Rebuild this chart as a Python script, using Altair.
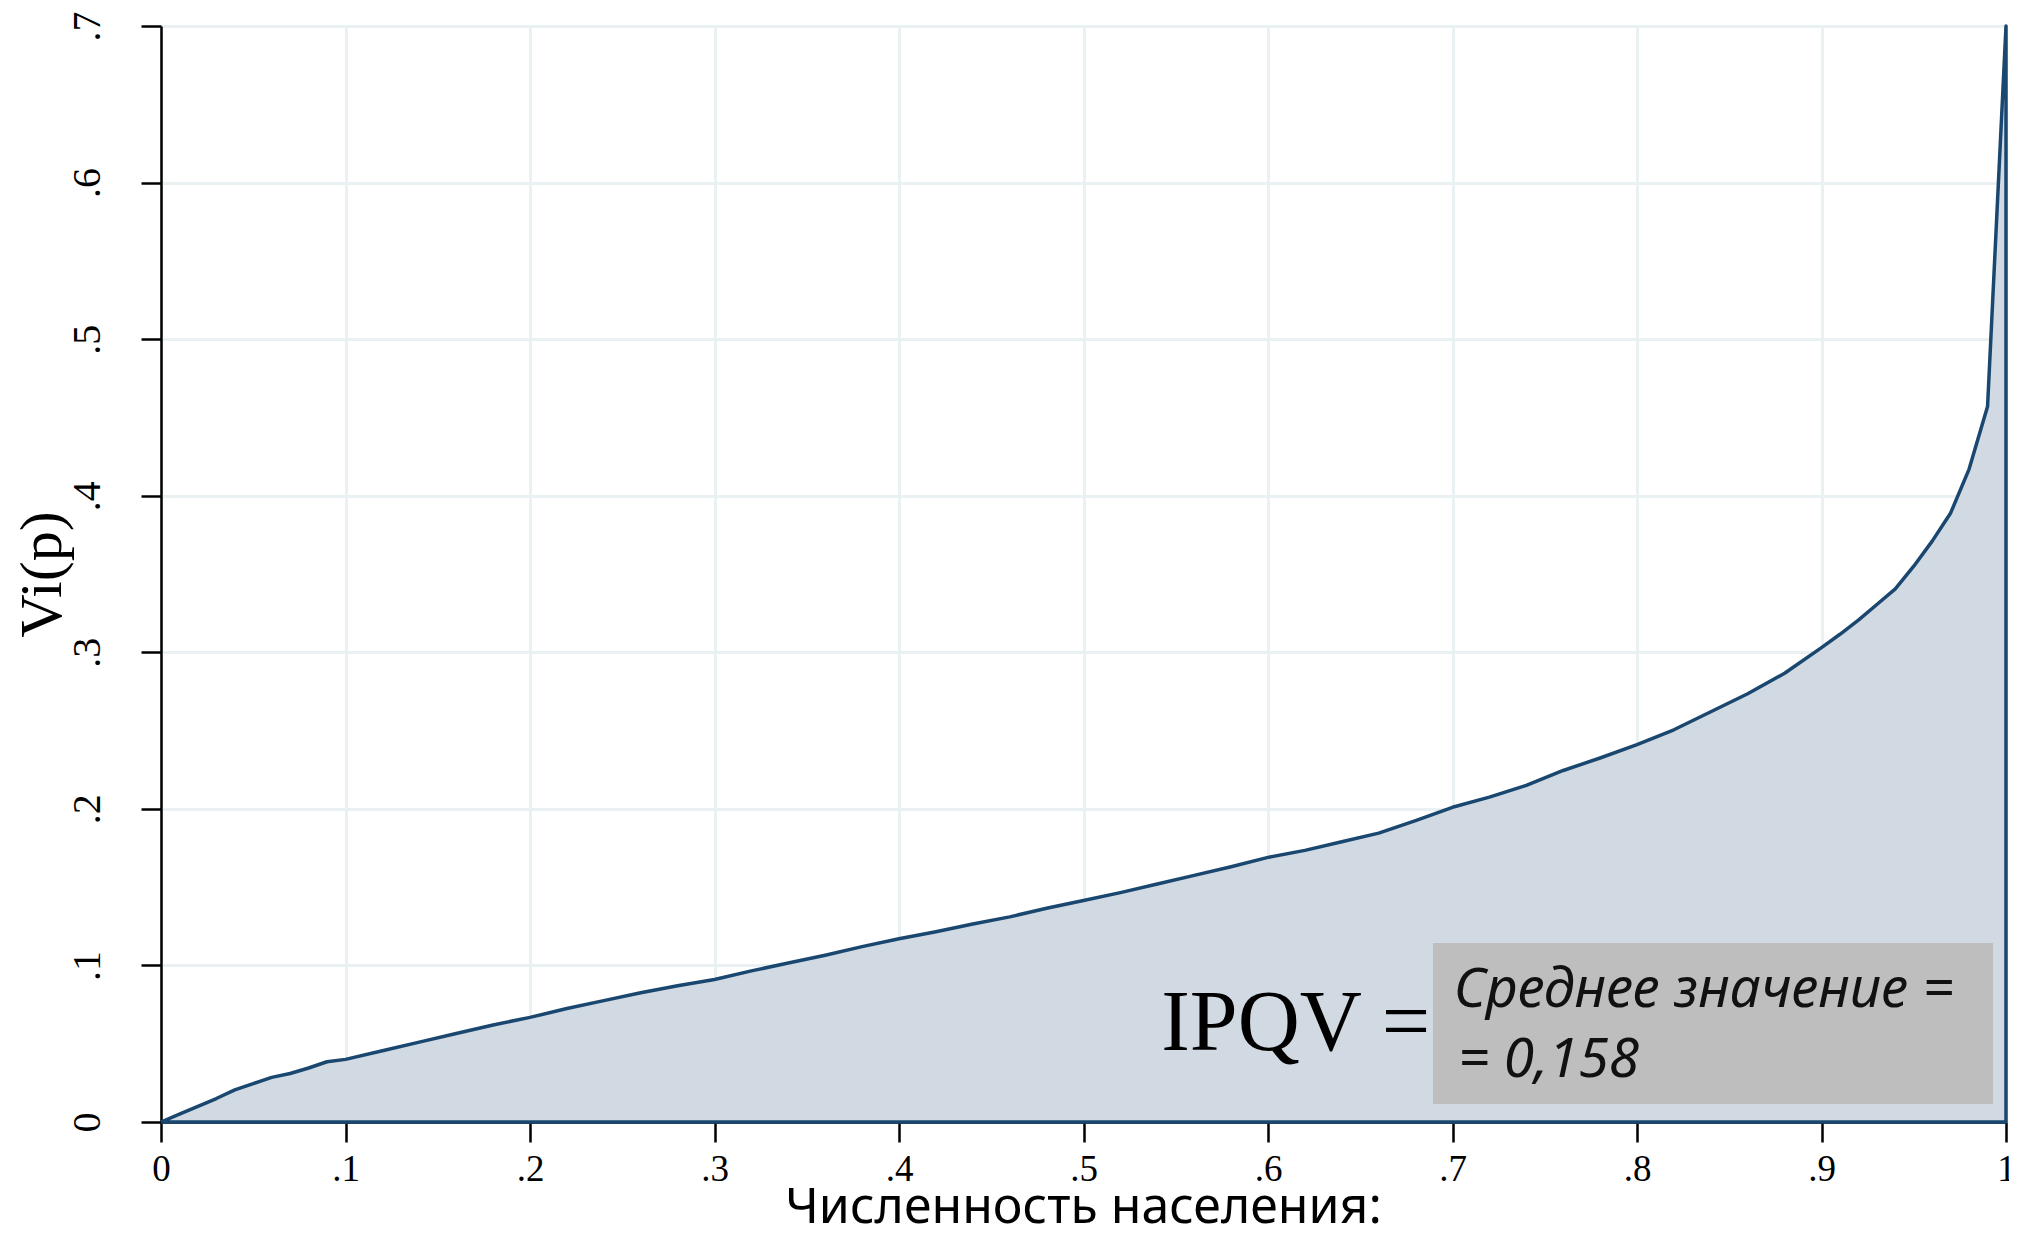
import altair as alt
import pandas as pd

# Population share p and Vi(p) values
p_vals = [0.00, 0.01, 0.02, 0.03, 0.04, 0.05, 0.06, 0.07, 0.08, 0.09, 0.10,
          0.12, 0.14, 0.16, 0.18, 0.20, 0.22, 0.24, 0.26, 0.28, 0.30,
          0.32, 0.34, 0.36, 0.38, 0.40, 0.42, 0.44, 0.46, 0.48, 0.50,
          0.52, 0.54, 0.56, 0.58, 0.60, 0.62, 0.64, 0.66, 0.68, 0.70,
          0.72, 0.74, 0.76, 0.78, 0.80, 0.82, 0.84, 0.86, 0.88, 0.90,
          0.91, 0.92, 0.93, 0.94, 0.95, 0.96, 0.97, 0.98, 0.99, 1.00]
vi_vals = [0.000, 0.005, 0.010, 0.015, 0.0205, 0.0245, 0.0285, 0.031, 0.0345, 0.0385, 0.040,
           0.0455, 0.051, 0.0565, 0.062, 0.0668, 0.0725, 0.0775, 0.0825, 0.087, 0.091,
           0.0965, 0.1015, 0.1065, 0.112, 0.117, 0.1215, 0.1265, 0.131, 0.1365, 0.1415,
           0.1465, 0.152, 0.1575, 0.163, 0.169, 0.1735, 0.179, 0.1845, 0.1925, 0.201,
           0.2075, 0.215, 0.2245, 0.2325, 0.241, 0.2505, 0.262, 0.2735, 0.2866, 0.303,
           0.3115, 0.3205, 0.3305, 0.3405, 0.355, 0.371, 0.389, 0.417, 0.457, 0.700]

x_ticks = [0, 0.1, 0.2, 0.3, 0.4, 0.5, 0.6, 0.7, 0.8, 0.9, 1.0]
y_ticks = [0, 0.1, 0.2, 0.3, 0.4, 0.5, 0.6, 0.7]

x_title = "Численность населения:"
y_title = "Vi(p)"
ipqv_label = "IPQV ="
box_line1 = "Среднее значение ="
box_line2 = "= 0,158"

# annotation anchors (data units)
ipqv_pos = (0.688, 0.046)
box_x = (0.6894, 0.993)
box_y = (0.0115, 0.1143)
line1_pos = (0.7008, 0.0734)
line2_pos = (0.703, 0.0287)

LINE = "#1a476f"
FILL = "#d1dae3"
GRID = "#e9f1f3"

curve = pd.DataFrame({"p": p_vals, "v": vi_vals})
outline = pd.DataFrame({
    "p": p_vals + [1.0, 0.0],
    "v": vi_vals + [0.0, 0.0],
})
outline["o"] = range(len(outline))

xs = alt.Scale(domain=[0, 1], nice=False, zero=False)
ys = alt.Scale(domain=[0, 0.7], nice=False, zero=False)

x_axis = alt.Axis(
    values=x_ticks, grid=True, gridColor=GRID, gridWidth=3,
    domainColor="black", domainWidth=2.5, tickColor="black", tickWidth=2.5, tickSize=20,
    labelFont="Liberation Serif", labelFontSize=37, labelColor="black",
    labelPadding=9, labelBaseline="top", labelAlign="center",
    labelExpr="datum.value >= 1 ? '1' : (datum.value == 0 ? '0' : replace(format(datum.value, '.1f'), '0.', '.'))",
    title=x_title, titleFont="Noto Sans", titleFontSize=50, titleFontWeight="normal",
    titleColor="black", titleX=922, titleY=100, titleBaseline="alphabetic", titleAlign="center",
    labelFlush=False, labelOverlap=False,
)
y_axis = alt.Axis(
    values=y_ticks, grid=True, gridColor=GRID, gridWidth=3,
    domainColor="black", domainWidth=2.5, tickColor="black", tickWidth=2.5, tickSize=20,
    labelFont="Liberation Serif", labelFontSize=40, labelColor="black",
    labelAngle=270, labelAlign="center", labelBaseline="alphabetic", labelPadding=42,
    labelExpr="datum.value == 0 ? '0' : replace(format(datum.value, '.1f'), '0.', '.')",
    title=y_title, titleFont="Liberation Serif", titleFontSize=60, titleFontWeight="normal",
    titleColor="black", titleAngle=270, titleX=-101, titleY=548,
    titleBaseline="alphabetic", titleAlign="center",
    labelFlush=False, labelOverlap=False,
)

area = alt.Chart(curve).mark_area(color=FILL, opacity=1).encode(
    x=alt.X("p:Q", scale=xs, axis=x_axis),
    y=alt.Y("v:Q", scale=ys, axis=y_axis),
)
line = alt.Chart(outline).mark_line(color=LINE, strokeWidth=3.5, strokeJoin="round").encode(
    x=alt.X("p:Q", scale=xs),
    y=alt.Y("v:Q", scale=ys),
    order="o:Q",
)

box_df = pd.DataFrame({"x1": [box_x[0]], "x2": [box_x[1]], "y1": [box_y[0]], "y2": [box_y[1]]})
box = alt.Chart(box_df).mark_rect(color="#bebebe", opacity=1).encode(
    x=alt.X("x1:Q", scale=xs), x2="x2:Q",
    y=alt.Y("y1:Q", scale=ys), y2="y2:Q",
)

ipqv_df = pd.DataFrame({"x": [ipqv_pos[0]], "y": [ipqv_pos[1]], "t": [ipqv_label]})
ipqv = alt.Chart(ipqv_df).mark_text(
    font="Liberation Serif", fontSize=86, align="right", baseline="alphabetic", color="black"
).encode(x=alt.X("x:Q", scale=xs), y=alt.Y("y:Q", scale=ys), text="t:N")

box_txt_df = pd.DataFrame({
    "x": [line1_pos[0], line2_pos[0]],
    "y": [line1_pos[1], line2_pos[1]],
    "t": [box_line1, box_line2],
})
box_txt = alt.Chart(box_txt_df).mark_text(
    font="Noto Sans", fontSize=55, fontStyle="italic", align="left", baseline="alphabetic", color="#111111"
).encode(x=alt.X("x:Q", scale=xs), y=alt.Y("y:Q", scale=ys), text="t:N")

chart = alt.layer(area, line, box, ipqv, box_txt).properties(
    width=1845, height=1096,
    autosize=alt.AutoSizeParams(type="none"),
    padding={"left": 153, "top": 18, "right": 3, "bottom": 102},
    background="white",
).configure_view(stroke=None)

chart.save("out.html", embed_options={"renderer": "svg", "actions": False})
